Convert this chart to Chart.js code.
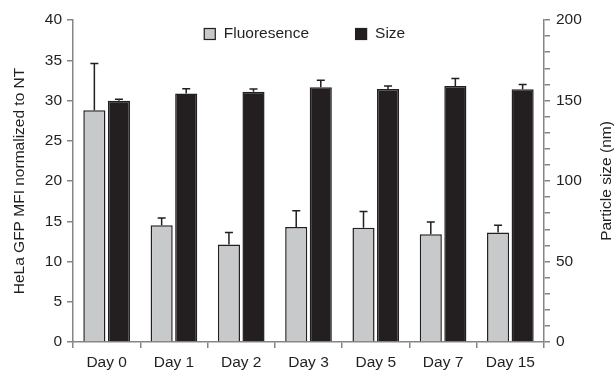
<!DOCTYPE html>
<html>
<head>
<meta charset="utf-8">
<script src="https://cdn.jsdelivr.net/npm/chart.js@4/dist/chart.umd.min.js"></script>
<style>
  html, body { margin: 0; padding: 0; background: #fff; }
  #wrap { width: 616px; height: 370px; }
</style>
</head>
<body>
<div id="wrap"><canvas id="chart" width="616" height="370"></canvas></div>
<script>
// days -> x axis
const days = ['Day 0', 'Day 1', 'Day 2', 'Day 3', 'Day 5', 'Day 7', 'Day 15'];

// HeLa GFP MFI normalized to NT (left axis) and upper error
const fluor = [28.8, 14.5, 12.1, 14.3, 14.2, 13.4, 13.6];
const fluorErr = [5.8, 0.9, 1.5, 2.0, 2.0, 1.5, 0.9];

// particle size in nm (right axis) and upper error
const size = [149.8, 154.3, 155.4, 158.2, 157.2, 159.0, 157.0];
const sizeErr = [1.0, 3.0, 1.8, 4.4, 1.8, 4.6, 3.0];

const grey = '#c8c9cb';
const ink = '#231f20';
const axisGrey = '#858585';
const font = { family: 'Liberation Sans, Arial, Helvetica, sans-serif', size: 15.5 };

// upward-only error bars, read through the dataset's own y scale
const errorBars = {
  id: 'errorBars',
  afterDatasetsDraw(chart) {
    const ctx = chart.ctx;
    chart.data.datasets.forEach((ds, i) => {
      const meta = chart.getDatasetMeta(i);
      const scale = chart.scales[ds.yAxisID];
      meta.data.forEach((bar, j) => {
        const yTop = scale.getPixelForValue(ds.data[j] + ds.errors[j]);
        ctx.save();
        ctx.strokeStyle = ink;
        ctx.lineWidth = 1.5;
        ctx.beginPath();
        ctx.moveTo(bar.x, bar.y);
        ctx.lineTo(bar.x, yTop);
        ctx.moveTo(bar.x - 4, yTop);
        ctx.lineTo(bar.x + 4, yTop);
        ctx.stroke();
        ctx.restore();
      });
    });
  }
};

// legend inside the plot and the right title read bottom-to-top
const extras = {
  id: 'extras',
  afterDraw(chart) {
    const ctx = chart.ctx;
    const area = chart.chartArea;
    ctx.save();
    ctx.font = font.size + 'px ' + font.family;
    ctx.textBaseline = 'middle';
    const ds = chart.data.datasets;
    const box = 12, gap = 8, between = 46;
    const w0 = ctx.measureText(ds[0].label).width;
    const w1 = ctx.measureText(ds[1].label).width;
    const total = box + gap + w0 + between + box + gap + w1;
    let x = (area.left + area.right) / 2 - total / 2 - 4;
    const y = 34;
    [0, 1].forEach(k => {
      ctx.fillStyle = ds[k].backgroundColor;
      ctx.fillRect(x, y - box / 2, box, box);
      ctx.strokeStyle = ink;
      ctx.lineWidth = 1.2;
      ctx.strokeRect(x + 0.5, y - box / 2 + 0.5, box - 1, box - 1);
      ctx.fillStyle = ink;
      ctx.fillText(ds[k].label, x + box + gap, y);
      x += box + gap + (k === 0 ? w0 + between : w1);
    });
    // right axis title
    ctx.translate(607, (area.top + area.bottom) / 2);
    ctx.rotate(-Math.PI / 2);
    ctx.textAlign = 'center';
    ctx.fillText('Particle size (nm)', 0, 0);
    ctx.restore();
  }
};

const data = {
  labels: days,
  datasets: [{
    label: 'Fluoresence',
    data: fluor,
    errors: fluorErr,
    backgroundColor: grey,
    borderColor: ink,
    borderWidth: 1.5,
    yAxisID: 'y',
    categoryPercentage: 0.73,
    barPercentage: 0.9
  }, {
    label: 'Size',
    data: size,
    errors: sizeErr,
    backgroundColor: ink,
    borderColor: ink,
    borderWidth: 1.5,
    yAxisID: 'y1',
    categoryPercentage: 0.73,
    barPercentage: 0.9
  }]
};

const config = {
  type: 'bar',
  data: data,
  options: {
    responsive: false,
    animation: false,
    layout: { padding: { top: 20, left: 0, right: 0, bottom: 0 } },
    plugins: { legend: { display: false }, tooltip: { enabled: false } },
    scales: {
      x: {
        afterFit: s => { s.height = 28; },
        grid: { offset: true, drawOnChartArea: false, tickLength: 6, color: axisGrey, lineWidth: 1.5 },
        border: { color: axisGrey, width: 1.5 },
        ticks: { color: ink, font: font, padding: 5, maxRotation: 0 }
      },
      y: {
        position: 'left',
        min: 0, max: 40,
        afterFit: s => { s.width = 73; },
        grid: { drawOnChartArea: false, tickLength: 6, color: axisGrey, lineWidth: 1.5 },
        border: { color: axisGrey, width: 1.5 },
        ticks: { stepSize: 5, color: ink, font: font, padding: 5 },
        title: { display: true, text: 'HeLa GFP MFI normalized to NT', color: ink, font: font, padding: { top: 10, bottom: 0 } }
      },
      y1: {
        position: 'right',
        min: 0, max: 200,
        afterFit: s => { s.width = 72; },
        grid: { drawOnChartArea: false, tickLength: 6, color: axisGrey, lineWidth: 1.5 },
        border: { color: axisGrey, width: 1.5 },
        ticks: {
          stepSize: 10, autoSkip: false, color: ink, font: font, padding: 6,
          callback: v => (v % 50 === 0 ? v : '')
        }
      }
    }
  },
  plugins: [errorBars, extras]
};

var myChart = new Chart(document.getElementById('chart').getContext('2d'), config);
</script>
</body>
</html>
